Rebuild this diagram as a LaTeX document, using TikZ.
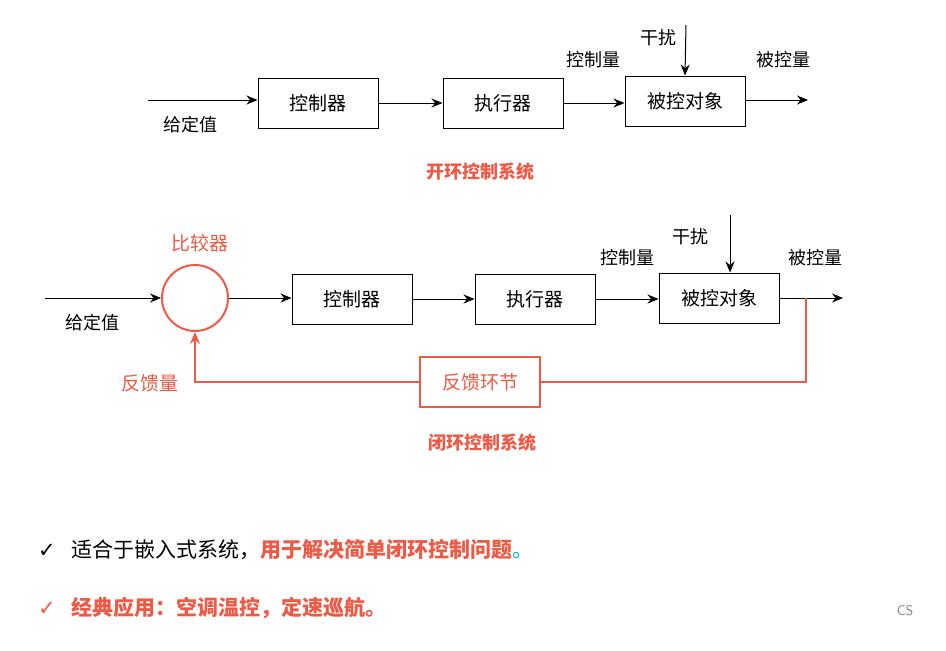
\documentclass[tikz,border=0pt]{standalone}
\usepackage{fontspec}
\setmainfont{Noto Sans CJK SC}
\newfontfamily\sym{DejaVu Sans}
\usetikzlibrary{arrows.meta}
\definecolor{rd}{HTML}{EE5A45}
\begin{document}
\begin{tikzpicture}[x=1pt,y=-1pt,
 box/.style={draw,line width=1pt,minimum width=120pt,minimum height=50pt,font=\fontsize{19}{22}\selectfont},
 lab/.style={font=\fontsize{18}{21}\selectfont},
 ar/.style={-{Stealth[length=11pt,width=9pt]},line width=1pt}]
\useasboundingbox (0,0) rectangle (946,651);
% open loop
\node[box] (c1) at (318,103) {控制器};
\node[box] (e1) at (503,103) {执行器};
\node[box] (p1) at (685,101) {被控对象};
\coordinate (in1) at (148,100);
\coordinate (d1) at (686,25);
\coordinate (o1) at (808,100);
\draw[ar] (in1) -- (in1 -| c1.west);
\draw[ar] (c1) -- (e1);
\draw[ar] (e1.east) -- (e1.east -| p1.west);
\draw[ar] (d1) -- (p1.north);
\draw[ar] (p1.east |- o1) -- (o1);
\node[lab] (g1) at (190,125) {给定值};
\node[lab] (k1) at (593,60) {控制量};
\node[lab] (r1) at (658,38) {干扰};
\node[lab] (b1) at (783,60) {被控量};
\node[lab,text=rd,font=\fontsize{18}{21}\selectfont\bfseries] (t1) at (480,172) {开环控制系统};
% closed loop
\node[circle,draw=rd,line width=2pt,minimum size=66pt,inner sep=0pt] (cmp) at (195,298) {};
\node[box] (c2) at (352,299) {控制器};
\node[box] (e2) at (535,299) {执行器};
\node[box] (p2) at (719,298) {被控对象};
\node[box,draw=rd,line width=2pt,text=rd] (f2) at (480,382) {反馈环节};
\coordinate (in2) at (45,298);
\coordinate (d2) at (730,215);
\coordinate (o2) at (843,298);
\coordinate (s2) at (806,298);
\draw[ar] (in2) -- (cmp.west);
\draw[ar] (cmp.east) -- (c2.west |- cmp.east);
\draw[ar] (c2) -- (e2);
\draw[ar] (e2.east) -- (e2.east -| p2.west);
\draw[ar] (d2) -- (p2.north -| d2);
\draw[ar] (p2.east |- o2) -- (o2);
\draw[rd,line width=2pt] (s2) |- (f2.east);
\draw[rd,line width=2pt,-{Stealth[length=12pt,width=10pt]}] (f2.west) -| (cmp.south);
\node[lab,text=rd,font=\fontsize{19}{22}\selectfont] (bj) at (200,243) {比较器};
\node[lab] (g2) at (92,323) {给定值};
\node[lab] (k2) at (627,258) {控制量};
\node[lab] (r2) at (690,237) {干扰};
\node[lab] (b2) at (815,258) {被控量};
\node[lab,text=rd,font=\fontsize{19}{22}\selectfont] (fk) at (150,383) {反馈量};
\node[lab,text=rd,font=\fontsize{18}{21}\selectfont\bfseries] (t2) at (482,443) {闭环控制系统};
% bullets
\node[anchor=west,font=\fontsize{21}{24}\selectfont,inner sep=0] (l1) at (38,550) {{\sym ✓}\hspace{16pt}适合于嵌入式系统，\textcolor{rd}{\bfseries 用于解决简单闭环控制问题}\textcolor{cyan}{。}};
\node[anchor=west,font=\fontsize{21}{24}\selectfont\bfseries,text=rd,inner sep=0] (l2) at (38,608) {{\sym ✓}\hspace{16pt}经典应用：空调温控，定速巡航。};
\node[text=gray,font=\fontsize{14}{16}\selectfont\sffamily] (cs) at (905,611) {CS};
\end{tikzpicture}
\end{document}
